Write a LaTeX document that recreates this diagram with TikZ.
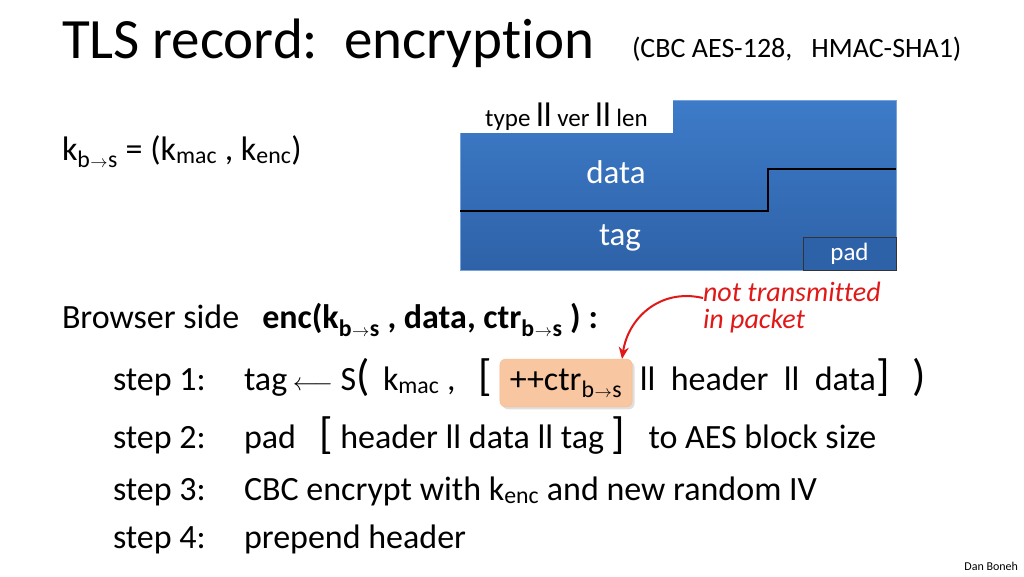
\documentclass[tikz,border=0pt]{standalone}
\usepackage{fontspec}
\setmainfont{Carlito}[Ligatures=NoCommon]
\usetikzlibrary{arrows.meta, positioning, shadows}

\definecolor{recblue}{HTML}{3D7BC8}
\definecolor{recdark}{HTML}{2E62A8}
\definecolor{ctrfill}{HTML}{F8C6A0}
\definecolor{handred}{HTML}{E01818}

% subscript b->s
\newcommand{\btos}{\textsubscript{b\kern0.5pt$\scriptstyle\rightarrow$\kern0.5pt s}}
\newcommand{\bigsym}[1]{{\fontsize{44}{44}\selectfont #1}}

\begin{document}
\begin{tikzpicture}[
    x=1pt, y=-1pt,
    every node/.style={inner sep=0pt, outer sep=0pt},
    body/.style={anchor=base west, font=\fontsize{34}{40}\selectfont},
    field/.style={text=white, font=\fontsize{33}{36}\selectfont},
    hand/.style={text=handred, font=\fontsize{28}{27}\selectfont\itshape, align=left}
]
\useasboundingbox (0,0) rectangle (1024,576);

% ----------------------
% Title
% ----------------------
\node[anchor=base west, font=\fontsize{57}{64}\selectfont] (title) at (62,58) {TLS record:\ \ encryption};
\node[anchor=base west, font=\fontsize{28}{30}\selectfont] (algs) at (632,57) {(CBC AES-128,\ \ \ HMAC-SHA1)};

% key pair
\node[body] (keys) at (62,160) {k\btos{} = (k\textsubscript{mac} , k\textsubscript{enc})};

% ----------------------
% Record layout
% ----------------------
\node[anchor=north west, minimum width=436pt, minimum height=170pt,
      top color=recblue, bottom color=recdark, draw=recblue!70] (rec) at (460,100) {};
\node[anchor=north west, fill=white, minimum width=213pt, minimum height=33pt,
      font=\fontsize{25}{26}\selectfont] (hdr) at (rec.north west)
      {type {\fontsize{34}{30}\selectfont ll} ver {\fontsize{34}{30}\selectfont ll} len};
\node[anchor=south east, draw=black!80, line width=1pt, fill=recdark, minimum width=93pt,
      minimum height=33pt, text=white, font=\fontsize{25}{26}\selectfont] (pad) at (rec.south east) {\raisebox{-4pt}{pad}};
\node[field] (data) at (616,172) {data};
\node[field] (tag) at (620,238) {tag};
\draw[line width=2.5pt] (rec.west |- 0,211) -- (768,211) -- (768,169) -- (rec.east |- 0,169);

% ----------------------
% Browser side
% ----------------------
\node[body] (side) at (62,328) {Browser side\ \ \ \textbf{enc(k\btos{} , data, ctr\btos{} ) :}};

% step 1
\node[body] (s1) at (113,390) {step 1:};
\node[body] (s1a) at (244,390) {tag\,$\longleftarrow$\ S\bigsym{(}\ \,k\textsubscript{mac} ,\ \ \ \bigsym{[}\ \ };
\node[anchor=base west, fill=ctrfill, draw=ctrfill!85!orange, rounded corners=6pt,
      minimum height=48pt, inner xsep=10pt, drop shadow={opacity=0.25},
      font=\fontsize{34}{40}\selectfont, text depth=14pt, text height=28pt] (ctr) at (s1a.base east) {++ctr\btos};
\node[anchor=base west, font=\fontsize{34}{40}\selectfont] (s1b) at (ctr.base east) {\ ll\ \ header\ \ ll\ \ data\bigsym{]}\ \ \ \bigsym{)}};

% step 2
\node[body] (s2) at (113,448) {step 2:};
\node[body] (s2a) at (244,448) {pad\ \ \ \bigsym{[}\ header ll data ll tag\ \bigsym{]}\ \ \ to AES block size};

% step 3
\node[body] (s3) at (113,500) {step 3:};
\node[body] (s3a) at (244,500) {CBC encrypt with k\textsubscript{enc} and new random IV};

% step 4
\node[body] (s4) at (113,548) {step 4:};
\node[body] (s4a) at (244,548) {prepend header};

% ----------------------
% Handwritten note
% ----------------------
\node[hand, anchor=north west] (note) at (703,282) {not transmitted\\in packet};
\draw[handred, line width=2pt, -{Stealth[length=12pt, width=10pt]}]
    (note.west |- 0,298) .. controls (660,288) and (628,318) .. (ctr.north -| 622,0);

\node[anchor=base east, font=\fontsize{12}{14}\selectfont] (author) at (1018,570) {Dan Boneh};

\end{tikzpicture}
\end{document}
